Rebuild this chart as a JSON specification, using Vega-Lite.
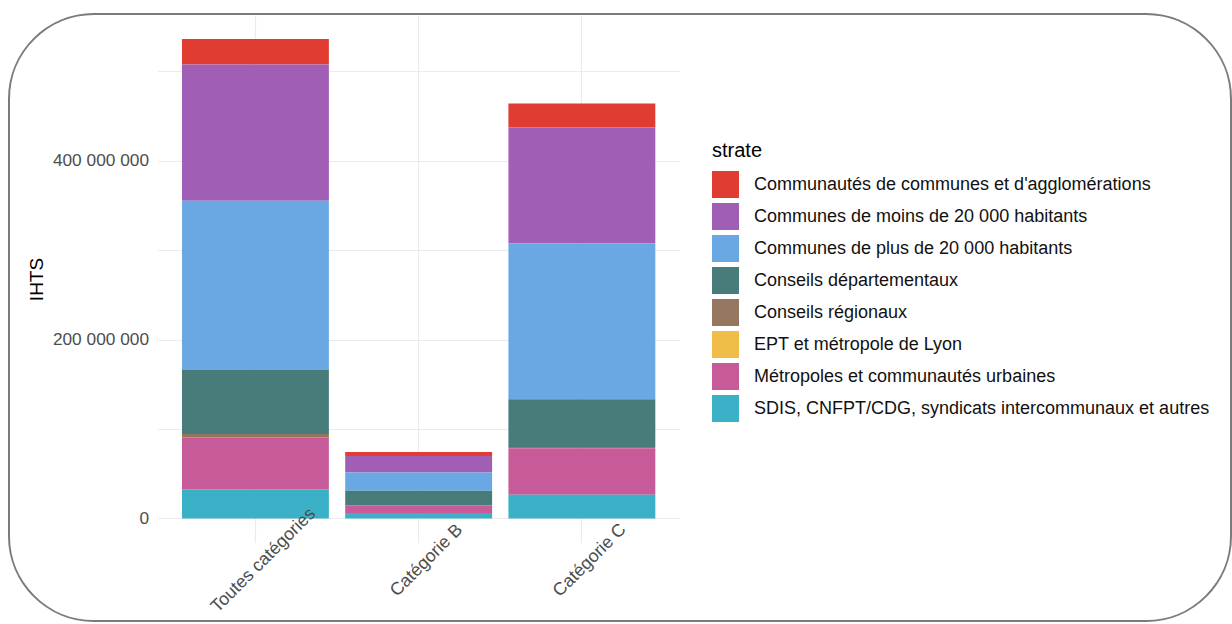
{
  "$schema": "https://vega.github.io/schema/vega-lite/v6.json",
  "autosize": {"type": "none"},
  "padding": {"left": 9, "top": 14, "right": 1, "bottom": 3},
  "width": 1222,
  "height": 607,
  "background": "white",
  "config": {
    "view": {"stroke": "#7b7b7b", "strokeWidth": 2, "cornerRadius": 85, "fill": "white"},
    "font": "Liberation Sans"
  },
  "data": {
    "values": [
      {"categorie": "Toutes catégories", "strate": "Communautés de communes et d'agglomérations", "IHTS": 28400000},
      {"categorie": "Toutes catégories", "strate": "Communes de moins de 20 000 habitants", "IHTS": 152400000},
      {"categorie": "Toutes catégories", "strate": "Communes de plus de 20 000 habitants", "IHTS": 188600000},
      {"categorie": "Toutes catégories", "strate": "Conseils départementaux", "IHTS": 72200000},
      {"categorie": "Toutes catégories", "strate": "Conseils régionaux", "IHTS": 3300000},
      {"categorie": "Toutes catégories", "strate": "EPT et métropole de Lyon", "IHTS": 200000},
      {"categorie": "Toutes catégories", "strate": "Métropoles et communautés urbaines", "IHTS": 58200000},
      {"categorie": "Toutes catégories", "strate": "SDIS, CNFPT/CDG, syndicats intercommunaux et autres", "IHTS": 32600000},
      {"categorie": "Catégorie B", "strate": "Communautés de communes et d'agglomérations", "IHTS": 4500000},
      {"categorie": "Catégorie B", "strate": "Communes de moins de 20 000 habitants", "IHTS": 18300000},
      {"categorie": "Catégorie B", "strate": "Communes de plus de 20 000 habitants", "IHTS": 20500000},
      {"categorie": "Catégorie B", "strate": "Conseils départementaux", "IHTS": 15900000},
      {"categorie": "Catégorie B", "strate": "Conseils régionaux", "IHTS": 200000},
      {"categorie": "Catégorie B", "strate": "EPT et métropole de Lyon", "IHTS": 0},
      {"categorie": "Catégorie B", "strate": "Métropoles et communautés urbaines", "IHTS": 8700000},
      {"categorie": "Catégorie B", "strate": "SDIS, CNFPT/CDG, syndicats intercommunaux et autres", "IHTS": 6100000},
      {"categorie": "Catégorie C", "strate": "Communautés de communes et d'agglomérations", "IHTS": 26800000},
      {"categorie": "Catégorie C", "strate": "Communes de moins de 20 000 habitants", "IHTS": 129300000},
      {"categorie": "Catégorie C", "strate": "Communes de plus de 20 000 habitants", "IHTS": 174400000},
      {"categorie": "Catégorie C", "strate": "Conseils départementaux", "IHTS": 53600000},
      {"categorie": "Catégorie C", "strate": "Conseils régionaux", "IHTS": 1200000},
      {"categorie": "Catégorie C", "strate": "EPT et métropole de Lyon", "IHTS": 100000},
      {"categorie": "Catégorie C", "strate": "Métropoles et communautés urbaines", "IHTS": 51900000},
      {"categorie": "Catégorie C", "strate": "SDIS, CNFPT/CDG, syndicats intercommunaux et autres", "IHTS": 26600000}
    ]
  },
  "layer": [
    {
      "mark": {"type": "bar"},
      "encoding": {
        "x": {
          "field": "categorie",
          "type": "nominal",
          "sort": ["Toutes catégories", "Catégorie B", "Catégorie C"],
          "scale": {"range": [148.5, 670.8], "paddingInner": 0.1, "paddingOuter": 0.15},
          "axis": {
            "orient": "top",
            "offset": -528.4,
            "title": null,
            "grid": true,
            "bandPosition": 0.5,
            "gridColor": "#ebebeb",
            "gridWidth": 1.2,
            "domain": false,
            "ticks": false,
            "labels": false,
            "zindex": 0
          }
        },
        "y": {
          "field": "IHTS",
          "type": "quantitative",
          "stack": "zero",
          "scale": {"domain": [-26770000, 562170000], "range": [528.4, 1.6], "nice": false, "zero": false},
          "axis": {
            "values": [0, 100000000, 200000000, 300000000, 400000000, 500000000],
            "labelExpr": "datum.value == 400000000 ? '400 000 000' : datum.value == 200000000 ? '200 000 000' : datum.value == 0 ? '0' : ''",
            "offset": -148.5,
            "grid": true,
            "gridColor": "#ebebeb",
            "gridWidth": 1.2,
            "domain": false,
            "ticks": false,
            "tickSize": 0,
            "labelPadding": 9,
            "labelFontSize": 17.3,
            "labelColor": "#4d4d4d",
            "labelBaseline": "middle",
            "title": "IHTS",
            "titleX": -120.8,
            "titleY": 265,
            "titleAngle": -90,
            "titleAlign": "center",
            "titleBaseline": "middle",
            "titleFontSize": 19,
            "titleFontWeight": "normal",
            "titleColor": "#000000"
          }
        },
        "color": {
          "field": "strate",
          "type": "nominal",
          "scale": {
            "domain": [
              "Communautés de communes et d'agglomérations",
              "Communes de moins de 20 000 habitants",
              "Communes de plus de 20 000 habitants",
              "Conseils départementaux",
              "Conseils régionaux",
              "EPT et métropole de Lyon",
              "Métropoles et communautés urbaines",
              "SDIS, CNFPT/CDG, syndicats intercommunaux et autres"
            ],
            "range": ["#e03c31", "#a05eb5", "#6aa8e3", "#477c7a", "#94775e", "#f0bd49", "#c75a98", "#3ab1c7"]
          },
          "legend": {
            "orient": "none",
            "legendX": 703,
            "legendY": 127,
            "title": "strate",
            "titleFontSize": 20,
            "titleFontWeight": "normal",
            "titleColor": "#000000",
            "titlePadding": 10,
            "labelFontSize": 18,
            "labelColor": "#111111",
            "labelLimit": 600,
            "symbolType": "square",
            "symbolSize": 729,
            "symbolStrokeWidth": 0,
            "symbolOpacity": 1,
            "rowPadding": 5,
            "labelOffset": 15,
            "padding": 0
          }
        }
      }
    },
    {
      "mark": {"type": "bar", "opacity": 0},
      "encoding": {
        "x": {
          "field": "categorie",
          "type": "nominal",
          "sort": ["Toutes catégories", "Catégorie B", "Catégorie C"],
          "axis": {
            "orient": "top",
            "offset": -528.4,
            "title": null,
            "grid": false,
            "bandPosition": 0.5,
            "domain": false,
            "ticks": false,
            "tickSize": 0,
            "labelAngle": -45,
            "labelAlign": "center",
            "labelBaseline": "middle",
            "labelPadding": -17.6,
            "labelOffset": 8,
            "labelFontSize": 17.8,
            "labelColor": "#4d4d4d",
            "labelLimit": 400,
            "zindex": 1
          }
        },
        "y": {
          "field": "IHTS",
          "type": "quantitative",
          "stack": "zero"
        }
      }
    }
  ],
  "resolve": {"axis": {"x": "independent"}}
}
